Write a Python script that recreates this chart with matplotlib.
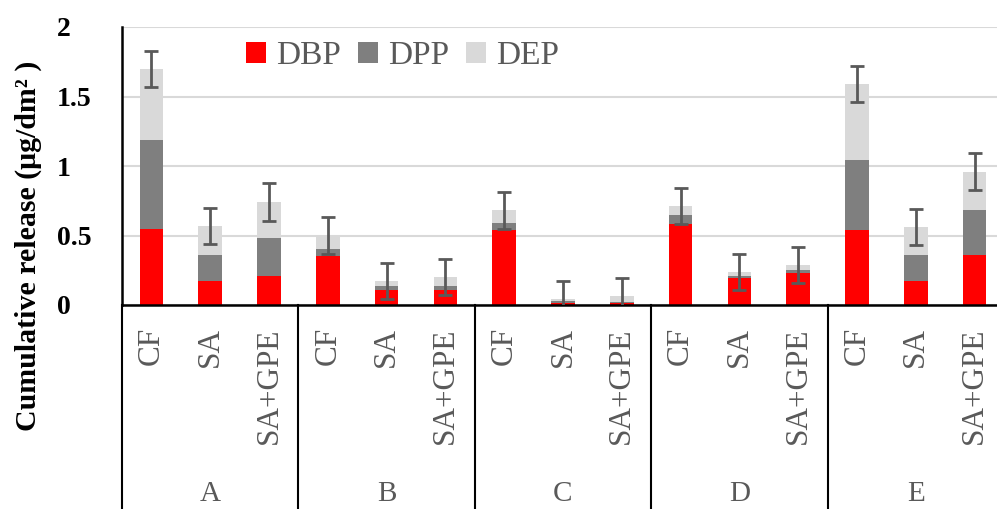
import matplotlib.pyplot as plt
import matplotlib.transforms as mtransforms
import numpy as np

groups = ['A', 'B', 'C', 'D', 'E']
treatments = ['CF', 'SA', 'SA+GPE']

# stacked values (ug/dm2)
dbp = [0.55, 0.17, 0.21, 0.35, 0.11, 0.11, 0.54, 0.012, 0.012, 0.58, 0.195, 0.23, 0.54, 0.17, 0.36]
dpp = [0.64, 0.19, 0.27, 0.05, 0.03, 0.03, 0.05, 0.018, 0.013, 0.07, 0.015, 0.025, 0.50, 0.19, 0.32]
dep = [0.51, 0.21, 0.26, 0.10, 0.03, 0.06, 0.09, 0.01, 0.039, 0.06, 0.03, 0.035, 0.55, 0.20, 0.28]
err = [0.13, 0.13, 0.135, 0.13, 0.13, 0.13, 0.13, 0.13, 0.13, 0.13, 0.13, 0.13, 0.13, 0.13, 0.13]

plt.rcParams['font.family'] = ['Liberation Serif', 'DejaVu Serif']
W, H = 997, 509
fig = plt.figure(figsize=(W / 100, H / 100), dpi=100)
ax = fig.add_axes([122 / W, 1 - 305 / H, (1004 - 122) / W, (305 - 27) / H])

x = np.arange(len(dbp))
dbp = np.array(dbp)
dpp = np.array(dpp)
dep = np.array(dep)
total = dbp + dpp + dep
bw = 0.4

ax.bar(x, dbp, bw, color='#ff0000', label='DBP', zorder=2)
ax.bar(x, dpp, bw, bottom=dbp, color='#7f7f7f', label='DPP', zorder=2)
ax.bar(x, dep, bw, bottom=dbp + dpp, color='#d9d9d9', label='DEP', zorder=2)
ax.errorbar(x, total, yerr=err, fmt='none', ecolor='#595959', elinewidth=2,
            capsize=5, capthick=2, zorder=3)

ax.set_ylim(0, 2)
ax.set_xlim(-0.5, len(dbp) - 0.5)
ax.set_yticks([0, 0.5, 1, 1.5, 2])
ax.set_yticklabels(['0', '0.5', '1', '1.5', '2'], fontsize=20, fontweight='bold', ha='left')
ax.tick_params(axis='y', length=0, pad=47)
ax.yaxis.grid(True, color='#d9d9d9', linewidth=1.5, zorder=0)
ax.set_axisbelow(True)

ax.set_xticks(x)
ax.set_xticklabels(treatments * len(groups), rotation=90, fontsize=22.5, color='#595959', va='top')
ax.tick_params(axis='x', length=0, pad=16)

for s in ['top', 'right']:
    ax.spines[s].set_visible(False)
ax.spines['left'].set_linewidth(1.8)
ax.spines['bottom'].set_linewidth(1.8)

# group separators and group names (multi-level axis)
trans = mtransforms.blended_transform_factory(ax.transData, ax.transAxes)
for b in np.arange(-0.5, len(dbp), 3):
    ax.plot([b, b], [0, -0.8], color='black', linewidth=1.5, transform=trans, clip_on=False)
for i, g in enumerate(groups):
    ax.text(3 * i + 1, -0.68, g, transform=trans, ha='center', va='center',
            fontsize=21, color='#595959')

fig.text(0.028, 0.517, 'Cumulative release (μg/dm² )', rotation=90, ha='center', va='center',
         fontsize=21.5, fontweight='bold')

ax.legend(loc='upper left', bbox_to_anchor=(0.217, 0.979), bbox_transform=fig.transFigure,
          ncol=3, frameon=False, fontsize=24, handlelength=0.6, handleheight=0.6,
          handletextpad=0.3, columnspacing=0.5, labelcolor='#595959')

fig.savefig('out.png', dpi=100)
